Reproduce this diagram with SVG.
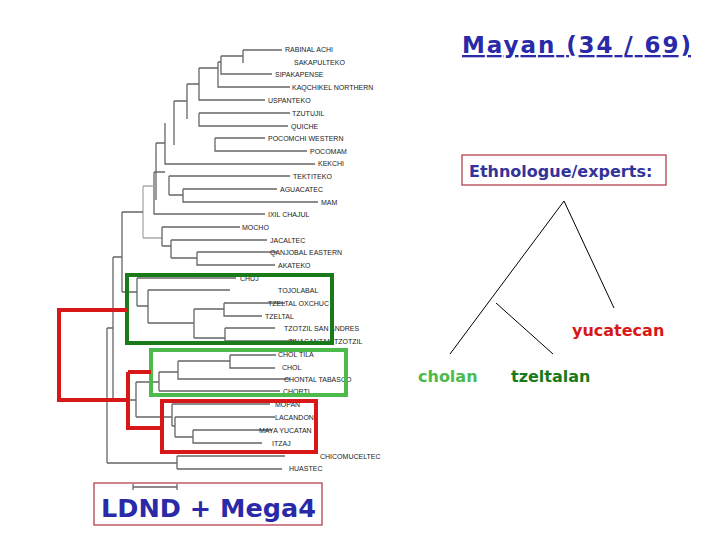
<svg xmlns="http://www.w3.org/2000/svg" width="720" height="540" viewBox="0 0 720 540">
<style>
.br{stroke:#666;stroke-width:1.3;fill:none}
.lb{stroke:#aaa;stroke-width:1.3;fill:none}
.lf{font-family:"Liberation Sans",Arial,sans-serif;font-size:7px;fill:#222}
.big{font-family:"DejaVu Sans",Verdana,sans-serif;font-weight:bold}
.box{fill:none;stroke:#b03040;stroke-width:1.2}
.hl{fill:none;stroke-width:4}
.et{stroke:#000;stroke-width:1;fill:none}
</style>
<rect width="720" height="540" fill="#fff"/>
<g id="tree">
<path class="br" d="M243,50V63M243,50H282M221,56V74H272M218,62V87H290M199,68V100H265M187,84V119M199,113V126H288M199,113H290M174,101V145M215,138V151H307M215,138H265M165,123V164H315M156,143V200M169,176V195M169,176H290M183,189V202H318M183,189H277M169,195H183M154,172V214H265M154,172H165M156,143H165M174,101H187M187,84H199M199,68H218M218,62H221M221,56H243"/>
<path class="lb" d="M143,186V238M143,186H154M143,238H162"/>
<path class="br" d="M162,227V246M162,227H240M171,240V258M171,240H267M197,252V265H275M197,252H277M171,258H197M162,246H171"/>
<path class="br" d="M122,212V292M122,212H143M137,278V306M137,278H236M148,290V323M148,290H230M194,309V338M224,303V316H262M224,303H285M225,328V341H295M225,328H275M194,309H224M194,338H225M148,323H194M137,306H148M122,292H137"/>
<path class="br" d="M113,257V400M113,257H122M136,382V417M159,372V391M230,355V368H275M230,355H276M178,361V379H290M178,361H230M159,372H178M159,391H280M136,382H159M172,404V426M172,404H270M175,417V437M175,417H275M193,430V443H262M193,430H272M175,437H193M172,426H175M136,417H172M113,400H136"/>
<path class="br" d="M107,328V463M107,328H113M107,463H177M177,456V469M177,456H285M177,469H282"/>
</g>
<g id="labels">
<text class="lf" x="285" y="52">RABINAL ACHI</text>
<text class="lf" x="294" y="65">SAKAPULTEKO</text>
<text class="lf" x="275" y="77">SIPAKAPENSE</text>
<text class="lf" x="292" y="90">KAQCHIKEL NORTHERN</text>
<text class="lf" x="268" y="103">USPANTEKO</text>
<text class="lf" x="292" y="116">TZUTUJIL</text>
<text class="lf" x="291" y="129">QUICHE</text>
<text class="lf" x="268" y="141">POCOMCHI WESTERN</text>
<text class="lf" x="310" y="154">POCOMAM</text>
<text class="lf" x="318" y="166">KEKCHI</text>
<text class="lf" x="293" y="179">TEKTITEKO</text>
<text class="lf" x="280" y="192">AGUACATEC</text>
<text class="lf" x="321" y="205">MAM</text>
<text class="lf" x="268" y="217">IXIL CHAJUL</text>
<text class="lf" x="242" y="230">MOCHO</text>
<text class="lf" x="270" y="243">JACALTEC</text>
<text class="lf" x="270" y="255">QANJOBAL EASTERN</text>
<text class="lf" x="278" y="268">AKATEKO</text>
<text class="lf" x="240" y="281">CHUJ</text>
<text class="lf" x="278" y="293">TOJOLABAL</text>
<text class="lf" x="268" y="306">TZELTAL OXCHUC</text>
<text class="lf" x="265" y="319">TZELTAL</text>
<text class="lf" x="284" y="331">TZOTZIL SAN ANDRES</text>
<text class="lf" x="288" y="344">ZINACANTAN TZOTZIL</text>
<text class="lf" x="278" y="357">CHOL TILA</text>
<text class="lf" x="282" y="370">CHOL</text>
<text class="lf" x="284" y="382">CHONTAL TABASCO</text>
<text class="lf" x="283" y="394">CHORTI</text>
<text class="lf" x="275" y="407">MOPAN</text>
<text class="lf" x="275" y="420">LACANDON</text>
<text class="lf" x="259" y="433">MAYA YUCATAN</text>
<text class="lf" x="272" y="446">ITZAJ</text>
<text class="lf" x="320" y="459">CHICOMUCELTEC</text>
<text class="lf" x="289" y="471">HUASTEC</text>
</g>
<g id="highlights">
<rect class="hl" x="127" y="275" width="205" height="68" stroke="#1a7a1a"/>
<rect class="hl" x="151" y="350" width="195" height="45" stroke="#4cbb4c"/>
<rect class="hl" x="162" y="401" width="154" height="51" stroke="#d81818"/>
<path class="hl" stroke="#d81818" d="M127,310H59V400H128M128,372H151M128,372V428H162"/>
</g>
<g id="title">
<text class="big" x="462" y="53" font-size="23" fill="#2a2aa8" text-decoration="underline" textLength="229" lengthAdjust="spacing">Mayan (34 / 69)</text>
</g>
<g id="ethnologue">
<rect class="box" x="462" y="155" width="204" height="30"/>
<text class="big" x="469" y="177" font-size="16" fill="#33339a">Ethnologue/experts:</text>
<path class="et" d="M450,354L564,201L614,308M496,303L553,354"/>
<text class="big" x="572" y="336" font-size="16" fill="#d81818">yucatecan</text>
<text class="big" x="418" y="382" font-size="16" fill="#4cbb4c">cholan</text>
<text class="big" x="511" y="382" font-size="16" fill="#1a7a1a">tzeltalan</text>
</g>
<g id="ldnd">
<rect class="box" x="94" y="483" width="228" height="42"/>
<path class="br" d="M133,487H177M133,484V490M177,484V490"/>
<text class="big" x="101" y="517" font-size="25.5" fill="#2a2aa8">LDND + Mega4</text>
</g>
</svg>
